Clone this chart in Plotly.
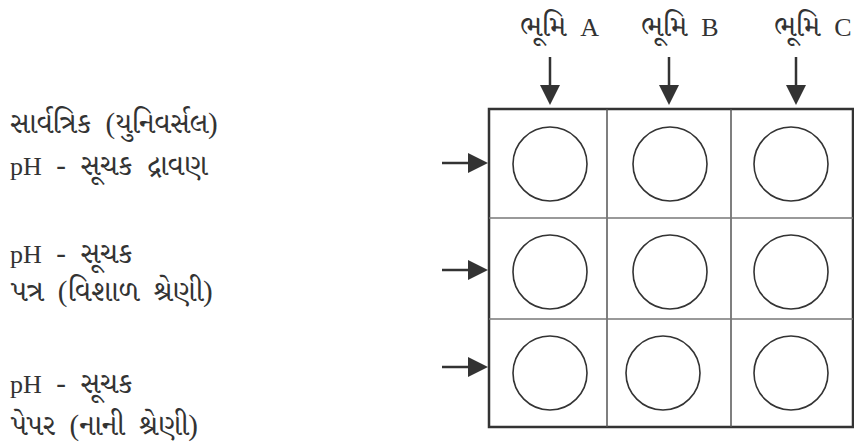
import re
import plotly.graph_objects as go

# ---- data ----
column_labels = ["ભૂમિ  A", "ભૂમિ  B", "ભૂમિ  C"]
row_label_line1 = ["સાર્વત્રિક  (યુનિવર્સલ)", "pH  -  સૂચક", "pH  -  સૂચક"]
row_label_line2 = ["pH  -  સૂચક  દ્રાવણ", "પત્ર  (વિશાળ  શ્રેણી)", "પેપર  (નાની  શ્રેણી)"]

# ---- layout geometry (pixels) ----
W, H = 854, 445
grid_x = [489, 607, 731, 853]
grid_y = [109, 218, 319, 427]
circle_cx = [[550, 670, 791], [550, 670, 791], [550, 663, 791]]
circle_cy = [164, 272, 373]
R = 37
col_arrow_x = [550, 669, 796]
col_label_right = [601, 721, 854]
row_arrow_y = [163, 270, 367]
row_text_y = [(124, 167), (255, 291), (385, 425)]

ink = "#333333"
FONT = "Liberation Serif, Noto Serif Gujarati, Noto Sans Gujarati, serif"
GUJ_SIZE = 29
LAT_SIZE = 26


def styled(t, lat=LAT_SIZE):
    # keep Latin runs at their own size next to the Gujarati script
    return re.sub(r"([A-Za-z]+)", lambda m: f'<span style="font-size:{lat}px">{m.group(1)}</span>', t)


shapes = []
annotations = []

# outer box
shapes.append(dict(type="rect", x0=grid_x[0], x1=grid_x[-1], y0=grid_y[0], y1=grid_y[-1],
                   line=dict(color=ink, width=2.5), layer="above"))
for x in grid_x[1:-1]:
    shapes.append(dict(type="line", x0=x, x1=x, y0=grid_y[0], y1=grid_y[-1],
                       line=dict(color="#555555", width=1.5)))
for y in grid_y[1:-1]:
    shapes.append(dict(type="line", x0=grid_x[0], x1=grid_x[-1], y0=y, y1=y,
                       line=dict(color="#777777", width=1.5)))

for r in range(3):
    for c in range(3):
        cx, cy = circle_cx[r][c], circle_cy[r]
        shapes.append(dict(type="circle", x0=cx - R, x1=cx + R, y0=cy - R, y1=cy + R,
                           line=dict(color=ink, width=1.6)))

# top arrows + labels
for i, lab in enumerate(column_labels):
    x = col_arrow_x[i]
    shapes.append(dict(type="line", x0=x, x1=x, y0=57, y1=88, line=dict(color=ink, width=2.5)))
    shapes.append(dict(type="path", path=f"M {x-10} 85 L {x+10} 85 L {x} 105 Z",
                       fillcolor=ink, line=dict(color=ink, width=0)))
    annotations.append(dict(x=col_label_right[i], y=27, text=styled(lab, 26), showarrow=False,
                            xanchor="right", yanchor="middle",
                            font=dict(size=GUJ_SIZE, color=ink, family=FONT)))

# side arrows + labels
for i in range(3):
    y = row_arrow_y[i]
    shapes.append(dict(type="line", x0=442, x1=471, y0=y, y1=y, line=dict(color=ink, width=2.5)))
    shapes.append(dict(type="path", path=f"M 468 {y-10} L 468 {y+10} L 488 {y} Z",
                       fillcolor=ink, line=dict(color=ink, width=0)))
    y1, y2 = row_text_y[i]
    annotations.append(dict(x=8, y=y1, text=styled(row_label_line1[i]), showarrow=False,
                            xanchor="left", yanchor="middle",
                            font=dict(size=GUJ_SIZE, color=ink, family=FONT)))
    annotations.append(dict(x=8, y=y2, text=styled(row_label_line2[i]), showarrow=False,
                            xanchor="left", yanchor="middle",
                            font=dict(size=GUJ_SIZE, color=ink, family=FONT)))

fig = go.Figure()
fig.update_layout(
    width=W, height=H,
    margin=dict(l=0, r=0, t=0, b=0),
    paper_bgcolor="white", plot_bgcolor="white",
    xaxis=dict(range=[0, W], visible=False, fixedrange=True),
    yaxis=dict(range=[H, 0], visible=False, fixedrange=True),
    shapes=shapes, annotations=annotations, showlegend=False,
)
fig.write_html("out.html", config={"displayModeBar": False},
               post_script="document.body.style.margin='0px';")
